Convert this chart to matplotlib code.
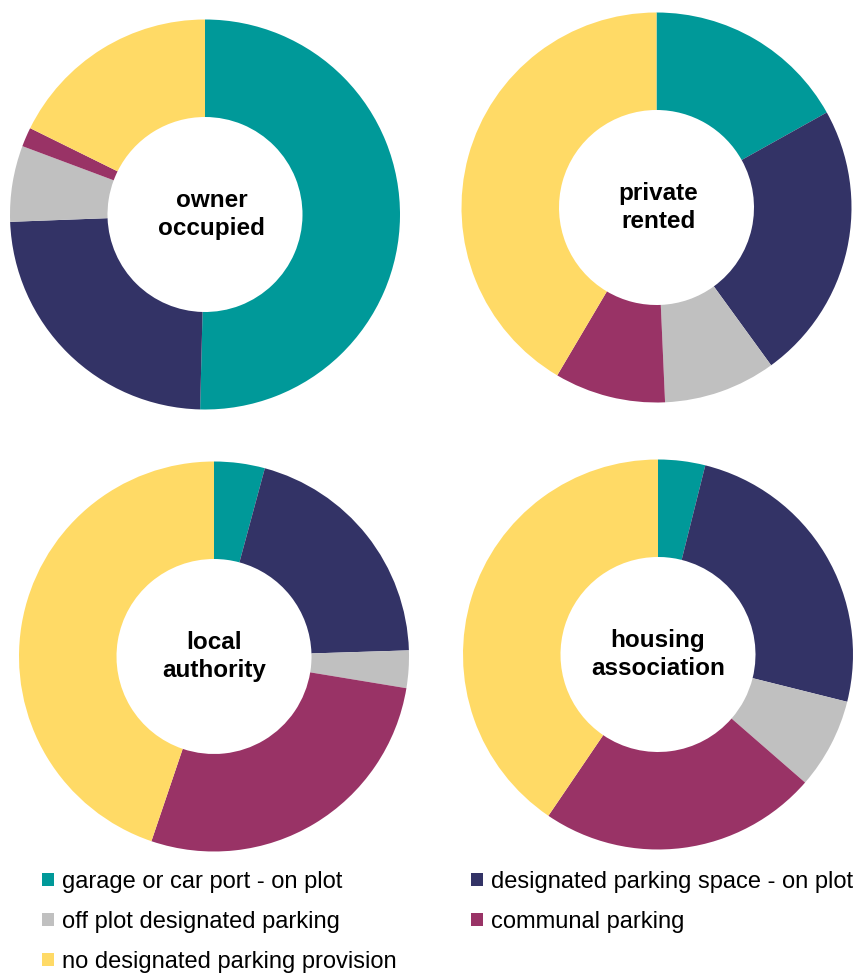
import matplotlib.pyplot as plt
from matplotlib.patches import Patch

# Data (% of households by parking provision, read from the donuts)
categories = ['garage or car port - on plot', 'designated parking space - on plot',
              'off plot designated parking', 'communal parking',
              'no designated parking provision']
colors = ['#009999', '#333366', '#C0C0C0', '#993366', '#FFDA66']

tenures = ['owner\noccupied', 'private\nrented', 'local\nauthority', 'housing\nassociation']
owner_occupied = [50.4, 24.0, 6.3, 1.6, 17.7]
private_rented = [16.9, 23.1, 9.3, 9.2, 41.5]
local_authority = [4.2, 20.3, 3.1, 27.6, 44.8]
housing_association = [3.9, 25.0, 7.5, 23.1, 40.5]
shares = [owner_occupied, private_rented, local_authority, housing_association]

plt.rcParams['font.family'] = ['Liberation Sans', 'DejaVu Sans']

W, H = 861, 976
fig = plt.figure(figsize=(W / 100, H / 100), dpi=100)

# donut centres in pixels (x from left, y from top) and radius
centres = [(205, 214.5), (656.5, 207.5), (214, 656.5), (658, 654.5)]
label_dx = [0.035, 0.01, 0, 0]  # small nudge of the centre text
R = 195

for (cx, cy), vals, name, dx in zip(centres, shares, tenures, label_dx):
    ax = fig.add_axes([(cx - R) / W, 1 - (cy + R) / H, 2 * R / W, 2 * R / H])
    ax.pie(vals, colors=colors, startangle=90, counterclock=False, radius=1,
           wedgeprops=dict(width=0.5, linewidth=0))
    ax.set_xlim(-1, 1)
    ax.set_ylim(-1, 1)
    ax.set_aspect('equal')
    ax.axis('off')
    ax.text(dx, 0, name, ha='center', va='center', fontsize=17.5, fontweight='bold',
            linespacing=1.25)

# legend, filled column-wise
order = [0, 2, 4, 1, 3]
handles = [Patch(facecolor=colors[i], edgecolor='none', label=categories[i]) for i in order]
fig.legend(handles=handles, loc='upper left', bbox_to_anchor=(42 / W, 1 - 871 / H),
           ncol=2, frameon=False, fontsize=17, borderpad=0, borderaxespad=0,
           handlelength=0.5, handleheight=0.47, handletextpad=0.35,
           columnspacing=3.15, labelspacing=0.76)

fig.savefig('out.png', dpi=100)
